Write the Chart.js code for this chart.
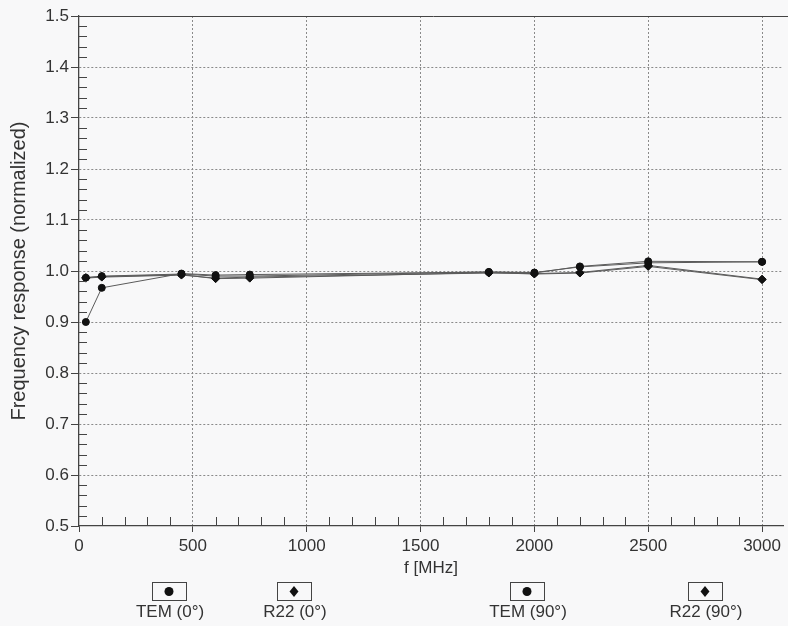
<!DOCTYPE html>
<html>
<head>
<meta charset="utf-8">
<script src="https://cdn.jsdelivr.net/npm/chart.js@4.4.1/dist/chart.umd.min.js"></script>
<style>
html,body{margin:0;padding:0;background:#f8f8f9;}
#wrap{width:788px;height:626px;position:relative;}
</style>
</head>
<body>
<div id="wrap"><canvas id="chart" width="788" height="626"></canvas></div>
<script>
// data
const freqs=[30,100,450,600,750,1800,2000,2200,2500,3000];
const tem0=[0.900,0.967,0.995,0.992,0.993,0.998,0.996,1.009,1.019,1.018];
const r220=[0.987,0.989,0.993,0.985,0.986,0.997,0.994,0.996,1.009,0.983];
const tem90=[0.987,0.990,0.994,0.990,0.990,0.998,0.997,1.008,1.016,1.018];
const r2290=[0.986,0.988,0.992,0.986,0.988,0.996,0.995,0.997,1.011,0.984];
const seriesNames=['TEM (0°)','R22 (0°)','TEM (90°)','R22 (90°)'];
const seriesValues=[tem0,r220,tem90,r2290];
const markerStyles=['circle','rectRot','circle','rectRot'];
const xTicks=[0,500,1000,1500,2000,2500,3000];
const yTicks=[0.5,0.6,0.7,0.8,0.9,1.0,1.1,1.2,1.3,1.4,1.5];

const FONT='"Liberation Sans", Arial, sans-serif';
const INK='#333';
const AXIS='#444';

const datasets=seriesValues.map((vals,i)=>({
  label:seriesNames[i],
  data:freqs.map((f,j)=>({x:f,y:vals[j]})),
  borderColor:'#5a5a5a',borderWidth:1,
  pointStyle:markerStyles[i],
  pointRadius:markerStyles[i]==='circle'?3.5:4,
  pointBackgroundColor:'#111',pointBorderColor:'#111',
  tension:0
}));

// minor ticks, top frame and the boxed legend under the axis
const extras={
  id:'extras',
  afterDraw(chart){
    const {ctx,chartArea:a,scales:{x,y}}=chart;
    ctx.save();
    ctx.strokeStyle=AXIS;ctx.lineWidth=1;
    ctx.beginPath();
    ctx.moveTo(a.left,a.top+0.5);ctx.lineTo(chart.width,a.top+0.5);
    for(let v=100;v<=x.max;v+=100){
      if(v%500===0)continue;
      const px=Math.round(x.getPixelForValue(v))+0.5;
      ctx.moveTo(px,a.bottom);ctx.lineTo(px,a.bottom-9);
    }
    for(let i=1;i<50;i++){
      if(i%5===0)continue;
      const py=Math.round(y.getPixelForValue(0.5+i*0.02))+0.5;
      ctx.moveTo(a.left,py);ctx.lineTo(a.left+8,py);
    }
    ctx.stroke();

    const legendX=[169,294,527,705];
    chart.data.datasets.forEach((ds,i)=>{
      const cx=legendX[i];
      ctx.strokeStyle=AXIS;ctx.lineWidth=1;
      ctx.strokeRect(cx-17+0.5,582.5,34,18);
      ctx.fillStyle='#111';
      ctx.beginPath();
      if(ds.pointStyle==='circle'){ctx.arc(cx,591.5,4.5,0,Math.PI*2);}
      else{ctx.moveTo(cx,586);ctx.lineTo(cx+4.5,591.5);ctx.lineTo(cx,597);ctx.lineTo(cx-4.5,591.5);ctx.closePath();}
      ctx.fill();
      ctx.fillStyle=INK;ctx.font='17px '+FONT;
      ctx.textAlign='center';ctx.textBaseline='middle';
      ctx.fillText(ds.label,cx+1,612);
    });
    ctx.restore();
  }
};

new Chart(document.getElementById('chart'),{
  type:'line',
  data:{datasets},
  plugins:[extras],
  options:{
    responsive:false,animation:false,
    layout:{padding:{top:16,right:0,bottom:47,left:0}},
    plugins:{legend:{display:false},tooltip:{enabled:false}},
    scales:{
      x:{
        type:'linear',min:0,max:3092,
        afterFit(s){s.height=53;},
        afterBuildTicks(s){s.ticks=xTicks.map(v=>({value:v}));},
        ticks:{color:INK,font:{family:FONT,size:17},padding:4,maxRotation:0,autoSkip:false,callback:v=>String(v)},
        grid:{color:c=>c.tick&&c.tick.value>0?'#8a8a8a':'rgba(0,0,0,0)',tickColor:AXIS,tickLength:6,lineWidth:1},
        border:{display:true,color:AXIS,width:1.3,dash:[2,2]},
        title:{display:true,text:'f [MHz]',color:INK,font:{family:FONT,size:17},padding:{top:0,bottom:0}}
      },
      y:{
        min:0.5,max:1.5,
        afterFit(s){s.width=79;},
        afterBuildTicks(s){s.ticks=yTicks.map(v=>({value:v}));},
        ticks:{color:INK,font:{family:FONT,size:17},padding:2,callback:v=>Number(v).toFixed(1)},
        grid:{color:c=>c.tick&&c.tick.value>0.55&&c.tick.value<1.45?'#8a8a8a':'rgba(0,0,0,0)',tickColor:AXIS,tickLength:8,lineWidth:1},
        border:{display:true,color:AXIS,width:1.3,dash:[2,2]},
        title:{display:true,text:'Frequency response (normalized)',color:INK,font:{family:FONT,size:20},padding:{top:7,bottom:0}}
      }
    }
  }
});
</script>
</body>
</html>
